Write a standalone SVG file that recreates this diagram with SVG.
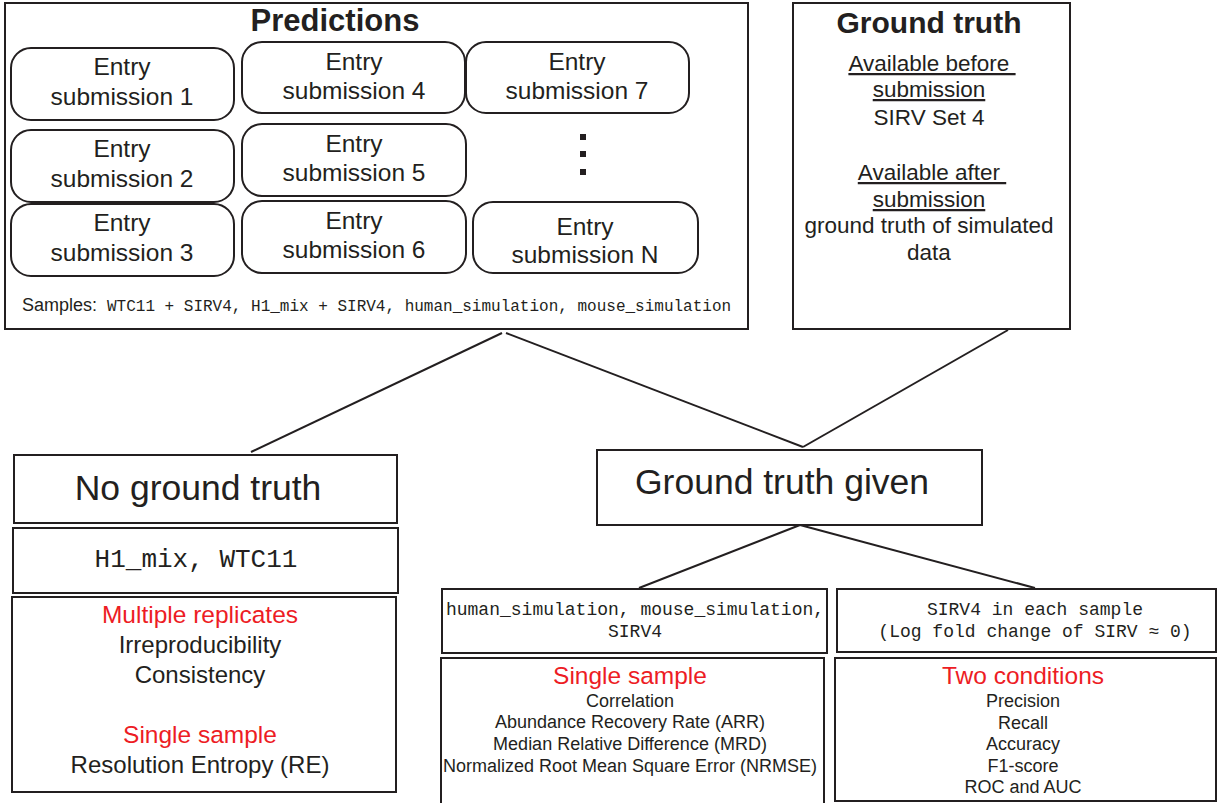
<svg xmlns="http://www.w3.org/2000/svg" width="1217" height="803" viewBox="0 0 1217 803">
  <style>
    .box { fill: #ffffff; stroke: #231f20; stroke-width: 2; }
    .entry { fill: #ffffff; stroke: #231f20; stroke-width: 2; }
    .link { stroke: #231f20; stroke-width: 2; fill: none; }
    .sans { font-family: "Liberation Sans", Arial, sans-serif; fill: #231f20; text-anchor: middle; }
    .mono { font-family: "Liberation Mono", "Courier New", monospace; fill: #231f20; }
    .title { font-weight: bold; font-size: 31px; }
    .etxt { font-size: 24.5px; }
    .gt { font-size: 22.5px; }
    .big { font-size: 35.5px; }
    .head { font-size: 24.5px; fill: #ed1c24; }
    .m24 { font-size: 24px; }
    .m18 { font-size: 18px; }
    .ul { text-decoration: underline; white-space: pre; }
  </style>

  <!-- connectors -->
  <g id="connectors">
    <line class="link" x1="502" y1="333" x2="251" y2="452"/>
    <line class="link" x1="506" y1="333" x2="803" y2="447"/>
    <line class="link" x1="1008" y1="330" x2="803" y2="447"/>
    <line class="link" x1="800" y1="525" x2="639" y2="588"/>
    <line class="link" x1="800" y1="525" x2="1035" y2="588"/>
  </g>

  <!-- predictions panel -->
  <g id="predictions">
    <rect class="box" x="5" y="3" width="743" height="326"/>
    <text class="sans title" x="335" y="31">Predictions</text>
    <text class="sans" x="22" y="311" style="font-size:18px;text-anchor:start">Samples:</text>
    <text class="mono" x="107" y="311" style="font-size:16px">WTC11 + SIRV4, H1_mix + SIRV4, human_simulation, mouse_simulation</text>
  </g>

  <g id="entry1">
    <rect class="entry" x="11" y="48" width="223" height="72" rx="20"/>
    <text class="sans etxt" x="122" y="75">Entry</text>
    <text class="sans etxt" x="122" y="105">submission 1</text>
  </g>
  <g id="entry2">
    <rect class="entry" x="11" y="130" width="223" height="72" rx="20"/>
    <text class="sans etxt" x="122" y="157">Entry</text>
    <text class="sans etxt" x="122" y="187">submission 2</text>
  </g>
  <g id="entry3">
    <rect class="entry" x="11" y="204" width="223" height="72" rx="20"/>
    <text class="sans etxt" x="122" y="231">Entry</text>
    <text class="sans etxt" x="122" y="261">submission 3</text>
  </g>
  <g id="entry4">
    <rect class="entry" x="242" y="42" width="223" height="71" rx="20"/>
    <text class="sans etxt" x="354" y="70">Entry</text>
    <text class="sans etxt" x="354" y="99">submission 4</text>
  </g>
  <g id="entry5">
    <rect class="entry" x="242" y="124" width="224" height="72" rx="20"/>
    <text class="sans etxt" x="354" y="152">Entry</text>
    <text class="sans etxt" x="354" y="181">submission 5</text>
  </g>
  <g id="entry6">
    <rect class="entry" x="242" y="201" width="224" height="72" rx="20"/>
    <text class="sans etxt" x="354" y="229">Entry</text>
    <text class="sans etxt" x="354" y="258">submission 6</text>
  </g>
  <g id="entry7">
    <rect class="entry" x="466" y="42" width="223" height="71" rx="20"/>
    <text class="sans etxt" x="577" y="70">Entry</text>
    <text class="sans etxt" x="577" y="99">submission 7</text>
  </g>
  <g id="ellipsis">
    <rect x="580" y="134" width="6" height="6" fill="#231f20"/>
    <rect x="580" y="151" width="6" height="6" fill="#231f20"/>
    <rect x="580" y="169" width="6" height="6" fill="#231f20"/>
  </g>
  <g id="entryN">
    <rect class="entry" x="473" y="202" width="225" height="71" rx="20"/>
    <text class="sans etxt" x="585" y="235">Entry</text>
    <text class="sans etxt" x="585" y="263">submission N</text>
  </g>

  <!-- ground truth panel -->
  <g id="ground-truth">
    <rect class="box" x="793" y="3" width="277" height="326"/>
    <text class="sans title" x="929" y="33" style="font-size:30px">Ground truth</text>
    <text class="sans gt ul" x="932" y="71" xml:space="preserve">Available before </text>
    <text class="sans gt ul" x="929" y="97">submission</text>
    <text class="sans gt" x="929" y="125">SIRV Set 4</text>
    <text class="sans gt ul" x="932" y="180" xml:space="preserve">Available after </text>
    <text class="sans gt ul" x="929" y="207">submission</text>
    <text class="sans gt" x="929" y="233">ground truth of simulated</text>
    <text class="sans gt" x="929" y="260">data</text>
  </g>

  <!-- no ground truth branch -->
  <g id="no-ground-truth">
    <rect class="box" x="14" y="455" width="383" height="68"/>
    <text class="sans big" x="198" y="500">No ground truth</text>
  </g>
  <g id="real-samples">
    <rect class="box" x="13" y="528" width="385" height="65"/>
    <text class="mono" x="196" y="567" style="font-size:26px;text-anchor:middle">H1_mix, WTC11</text>
  </g>
  <g id="no-gt-metrics">
    <rect class="box" x="12" y="597" width="384" height="195"/>
    <text class="sans head" x="200" y="623">Multiple replicates</text>
    <text class="sans m24" x="200" y="653">Irreproducibility</text>
    <text class="sans m24" x="200" y="683">Consistency</text>
    <text class="sans head" x="200" y="743">Single sample</text>
    <text class="sans m24" x="200" y="773">Resolution Entropy (RE)</text>
  </g>

  <!-- ground truth given branch -->
  <g id="ground-truth-given">
    <rect class="box" x="597" y="450" width="385" height="75"/>
    <text class="sans big" x="782" y="494">Ground truth given</text>
  </g>
  <g id="simulated-samples">
    <rect class="box" x="442" y="589" width="385" height="64"/>
    <text class="mono m18" x="635" y="615" style="text-anchor:middle">human_simulation, mouse_simulation,</text>
    <text class="mono m18" x="635" y="637" style="text-anchor:middle">SIRV4</text>
  </g>
  <g id="single-sample-metrics">
    <rect class="box" x="441" y="658" width="383" height="146"/>
    <text class="sans head" x="630" y="684">Single sample</text>
    <text class="sans m18" x="630" y="707">Correlation</text>
    <text class="sans m18" x="630" y="728">Abundance Recovery Rate (ARR)</text>
    <text class="sans m18" x="630" y="750">Median Relative Difference (MRD)</text>
    <text class="sans m18" x="630" y="772">Normalized Root Mean Square Error (NRMSE)</text>
  </g>
  <g id="sirv-samples">
    <rect class="box" x="837" y="589" width="379" height="63"/>
    <text class="mono m18" x="1035" y="615" style="text-anchor:middle">SIRV4 in each sample</text>
    <text class="mono m18" x="1035" y="637" style="text-anchor:middle">(Log fold change of SIRV ≈ 0)</text>
  </g>
  <g id="two-condition-metrics">
    <rect class="box" x="835" y="658" width="381" height="143"/>
    <text class="sans head" x="1023" y="684">Two conditions</text>
    <text class="sans m18" x="1023" y="707">Precision</text>
    <text class="sans m18" x="1023" y="729">Recall</text>
    <text class="sans m18" x="1023" y="750">Accuracy</text>
    <text class="sans m18" x="1023" y="772">F1-score</text>
    <text class="sans m18" x="1023" y="793">ROC and AUC</text>
  </g>
</svg>
